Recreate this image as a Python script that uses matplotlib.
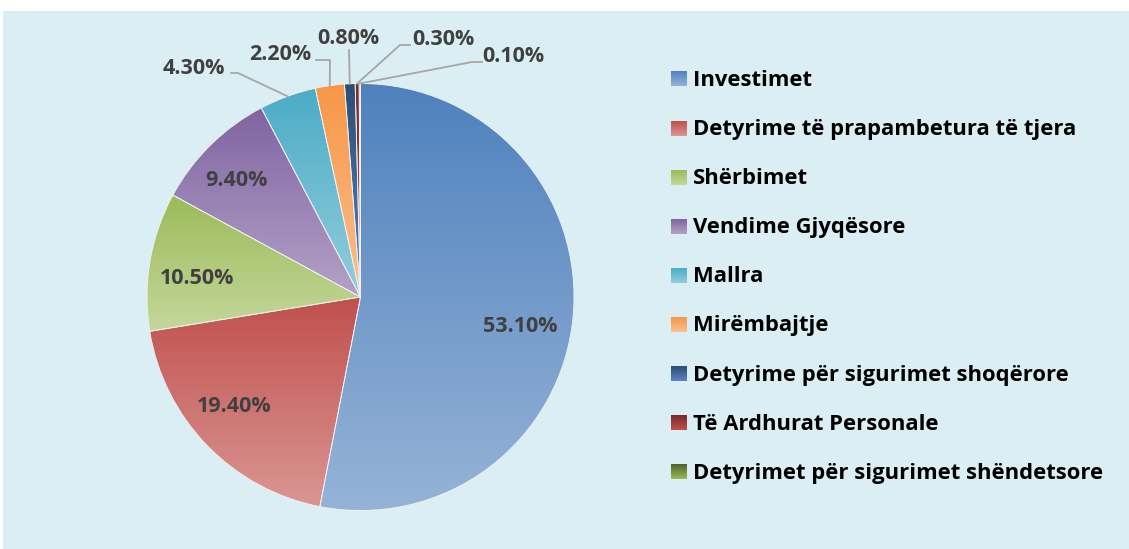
import numpy as np
import matplotlib.pyplot as plt
from matplotlib.colors import LinearSegmentedColormap
from matplotlib.patches import Rectangle

plt.rcParams['font.family'] = ['Open Sans', 'DejaVu Sans']

# Shares of arrears by category (%)
categories = [
    'Investimet',
    'Detyrime të prapambetura të tjera',
    'Shërbimet',
    'Vendime Gjyqësore',
    'Mallra',
    'Mirëmbajtje',
    'Detyrime për sigurimet shoqërore',
    'Të Ardhurat Personale',
    'Detyrimet për sigurimet shëndetsore',
]
shares = [53.1, 19.4, 10.5, 9.4, 4.3, 2.2, 0.8, 0.3, 0.1]

# gradient fill, top colour -> bottom colour
top_colors = ['#4F81BD', '#C0504D', '#9BBB59', '#8064A2', '#4BACC6',
              '#F79646', '#2C4D75', '#772C2A', '#4F6228']
bottom_colors = ['#95B3D7', '#DA9694', '#C4D79B', '#B3A2C7', '#93CDDD',
                 '#FAC090', '#5A85C0', '#C0504D', '#9BBB59']

W, H = 1129, 549
fig = plt.figure(figsize=(W / 100, H / 100), dpi=100)
fig.patch.set_facecolor('white')

# light blue panel behind everything
bg = fig.add_axes([0, 0, 1, 1])
bg.set_xlim(0, W)
bg.set_ylim(H, 0)
bg.axis('off')
bg.add_patch(Rectangle((3, 11), W - 3, H - 11, color='#DAEEF3', lw=0))

# pie placed in pixel space
cx, cy, r = 360.5, 297, 213.5
ax = fig.add_axes([(cx - r) / W, (H - cy - r) / H, 2 * r / W, 2 * r / H])
wedges, _ = ax.pie(shares, startangle=90, counterclock=False, radius=1,
                   wedgeprops=dict(edgecolor='#F2F2F2', linewidth=0.6))

grad = np.linspace(0, 1, 256).reshape(-1, 1)
for w, c0, c1 in zip(wedges, top_colors, bottom_colors):
    ext = w.get_path().get_extents()
    cmap = LinearSegmentedColormap.from_list('g', [c0, c1])
    im = ax.imshow(grad, cmap=cmap, origin='upper', aspect='auto',
                   extent=(ext.x0, ext.x1, ext.y0, ext.y1), zorder=1,
                   interpolation='bilinear')
    im.set_clip_path(w)
    w.set_facecolor('none')
    w.set_zorder(2)
ax.set_xlim(-1, 1)
ax.set_ylim(-1, 1)
ax.axis('off')

# overlay for labels, leader lines and legend (pixel coordinates)
ov = fig.add_axes([0, 0, 1, 1])
ov.patch.set_alpha(0)
ov.axis('off')

label_color = '#404040'
# label centres and leader elbows
label_pos = [(520.5, 326.5), (234.5, 406.5), (196.5, 278.5), (236.5, 180.5),
             (194, 69), (280, 55), (348.5, 39), (443.5, 39.5), (513.5, 56.5)]
leaders = {
    4: [(238, 73), (231, 73)],
    5: [(330, 60), (316, 60)],
    6: [(349, 50)],
    7: [(400, 45), (410, 45)],
    8: [(472, 62), (482, 62)],
}

for i, (w, v) in enumerate(zip(wedges, shares)):
    x, y = label_pos[i]
    ov.text(x, y, f'{v:.2f}%', ha='center', va='center', fontsize=15.5,
            fontweight='bold', color=label_color)
    if i in leaders:
        mid = np.deg2rad((w.theta1 + w.theta2) / 2)
        pts = [(cx + r * np.cos(mid), cy - r * np.sin(mid))] + leaders[i]
        xs, ys = zip(*pts)
        ov.plot(xs, ys, color='#A6A6A6', lw=1.3)

# legend
for i, (name, c0, c1) in enumerate(zip(categories, top_colors, bottom_colors)):
    yc = 79 + i * 49.1
    cmap = LinearSegmentedColormap.from_list('g', [c0, c1])
    ov.imshow(grad, cmap=cmap, origin='upper', aspect='auto',
              extent=(671, 687, yc + 7.5, yc - 7.5), interpolation='bilinear')
    ov.text(693, yc + 1.5, name, ha='left', va='center', fontsize=15.8,
            fontweight='bold', color='black')

ov.set_xlim(0, W)
ov.set_ylim(H, 0)

fig.savefig('out.png', dpi=100)
